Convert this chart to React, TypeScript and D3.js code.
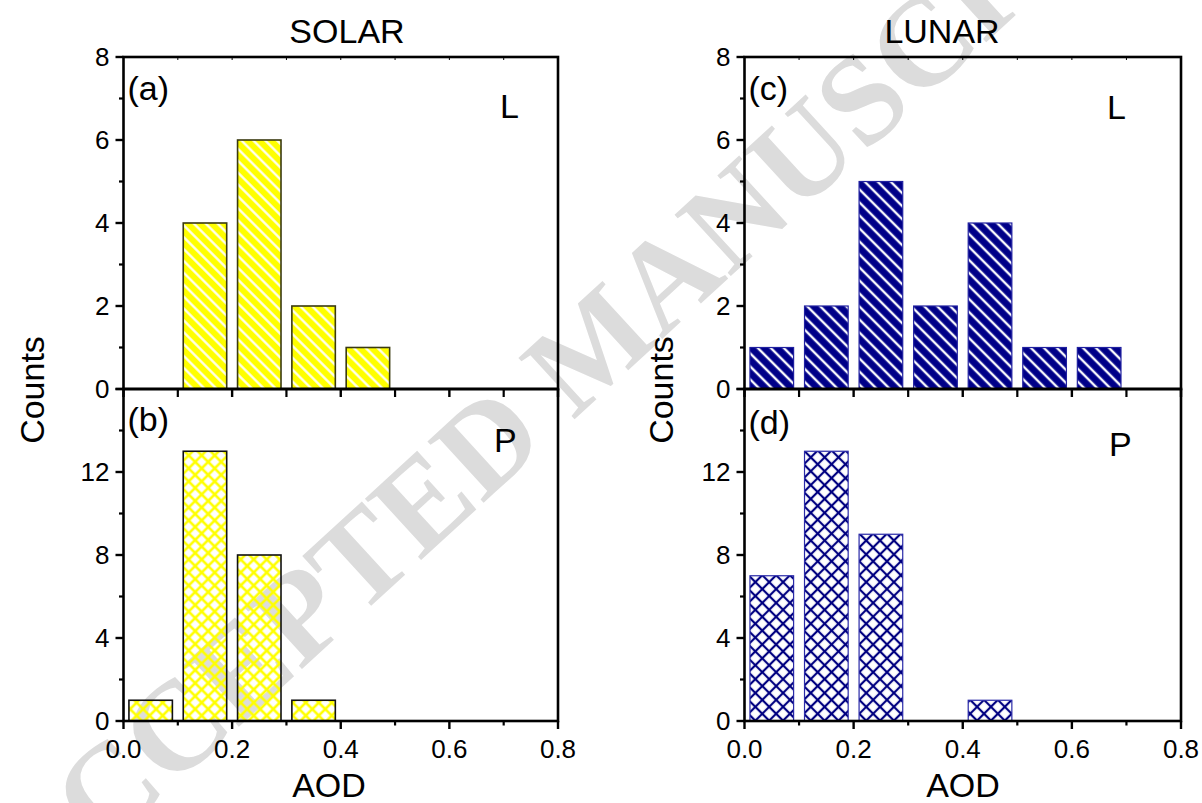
import React from 'react';
import * as d3 from 'd3';

// ---- data ----
const binStarts = [0.0, 0.1, 0.2, 0.3, 0.4, 0.5, 0.6, 0.7];
const binWidth = 0.1;
const solarL = [0, 4, 6, 2, 1, 0, 0, 0];
const solarP = [1, 13, 8, 1, 0, 0, 0, 0];
const lunarL = [1, 2, 5, 2, 4, 1, 1, 0];
const lunarP = [7, 13, 9, 0, 1, 0, 0, 0];

const xMajorTicks = [0.0, 0.2, 0.4, 0.6, 0.8];
const xMinorTicks = [0.1, 0.3, 0.5, 0.7];
const lMajorTicks = [0, 2, 4, 6, 8];
const lMinorTicks = [1, 3, 5, 7];
const pMajorTicks = [0, 4, 8, 12, 16];
const pLabelTicks = [0, 4, 8, 12];
const pMinorTicks = [2, 6, 10, 14];
const columnTitles = ['SOLAR', 'LUNAR'];
const panelLetters = ['(a)', '(b)', '(c)', '(d)'];
const panelTags = ['L', 'P', 'L', 'P'];
const watermark = 'ACCEPTED MANUSCRIPT';

const FONT = 'Arial, "Liberation Sans", sans-serif';
const W = 1202, H = 803;
const yTop = 57, yMid = 389, yBot = 721;
const cols = [
  { x0: 123.5, x1: 558, titleX: 347, aodX: 329, countsX: 44 },
  { x0: 744.5, x1: 1181, titleX: 942, aodX: 963, countsX: 673 },
];

type PanelProps = {
  x0: number; x1: number; top: number; bottom: number; max: number;
  values: number[]; fill: string; stroke: string; strokeW: number;
  majors: number[]; labels: number[]; minors: number[];
  letter: string; tag: string; letterY: number; tagY: number; tagX: number;
  showXLabels: boolean;
};

function Panel(p: PanelProps) {
  const x = d3.scaleLinear().domain([0, 0.8]).range([p.x0, p.x1]);
  const y = d3.scaleLinear().domain([0, p.max]).range([p.bottom, p.top]);
  const gap = 0.01;
  return (
    <g>
      {binStarts.map((b, i) =>
        p.values[i] > 0 ? (
          <rect key={i} x={x(b + gap)} y={y(p.values[i])}
            width={x(b + binWidth - gap) - x(b + gap)} height={y(0) - y(p.values[i])}
            fill={p.fill} stroke={p.stroke} strokeWidth={p.strokeW} />
        ) : null
      )}
      <rect x={p.x0} y={p.top} width={p.x1 - p.x0} height={p.bottom - p.top}
        fill="none" stroke="#000" strokeWidth={2.6} />
      {p.majors.map((t) => (
        <line key={'ym' + t} x1={p.x0 - 8} x2={p.x0} y1={y(t)} y2={y(t)} stroke="#000" strokeWidth={2.4} />
      ))}
      {p.minors.map((t) => (
        <line key={'yn' + t} x1={p.x0 - 4.5} x2={p.x0} y1={y(t)} y2={y(t)} stroke="#000" strokeWidth={2.2} />
      ))}
      {p.labels.map((t) => (
        <text key={'yl' + t} x={p.x0 - 14} y={y(t)} dy="0.36em" textAnchor="end"
          fontFamily={FONT} fontSize={26} fill="#000">{t}</text>
      ))}
      {xMajorTicks.map((t) => (
        <line key={'xm' + t} x1={x(t)} x2={x(t)} y1={p.bottom} y2={p.bottom + 8} stroke="#000" strokeWidth={2.4} />
      ))}
      {xMinorTicks.map((t) => (
        <line key={'xn' + t} x1={x(t)} x2={x(t)} y1={p.bottom} y2={p.bottom + (p.showXLabels ? 4.5 : 8)} stroke="#000" strokeWidth={2.2} />
      ))}
      {[...xMajorTicks, ...xMinorTicks].map((t) => (
        <line key={'xt' + t} x1={x(t)} x2={x(t)} y1={p.top} y2={p.top + 3} stroke="#000" strokeWidth={1} />
      ))}
      {p.showXLabels && xMajorTicks.map((t) => (
        <text key={'xl' + t} x={x(t)} y={p.bottom + 37} textAnchor="middle"
          fontFamily={FONT} fontSize={26} fill="#000">{d3.format('.1f')(t)}</text>
      ))}
      <text x={p.x0 + 4} y={p.letterY} fontFamily={FONT} fontSize={34} fill="#000">{p.letter}</text>
      <text x={p.tagX} y={p.tagY} fontFamily={FONT} fontSize={34} fill="#000">{p.tag}</text>
    </g>
  );
}

export default function App() {
  return (
    <svg width={W} height={H} viewBox={`0 0 ${W} ${H}`}
      style={{ position: 'absolute', left: 0, top: 0, background: '#fff' }}>
      <defs>
        <pattern id="hatchY" width={8.4} height={8.4} patternUnits="userSpaceOnUse" patternTransform="rotate(-45)">
          <rect width={8.4} height={8.4} fill="#ffff00" />
          <line x1={4.2} y1={0} x2={4.2} y2={8.4} stroke="#fff" strokeWidth={2.2} />
        </pattern>
        <pattern id="crossY" width={9.2} height={9.2} patternUnits="userSpaceOnUse" patternTransform="rotate(45)">
          <line x1={4.6} y1={0} x2={4.6} y2={9.2} stroke="#ffff00" strokeWidth={2.6} />
          <line x1={0} y1={4.6} x2={9.2} y2={4.6} stroke="#ffff00" strokeWidth={2.6} />
        </pattern>
        <pattern id="hatchB" width={9.2} height={9.2} patternUnits="userSpaceOnUse" patternTransform="rotate(-45)">
          <rect width={9.2} height={9.2} fill="#000088" />
          <line x1={4.6} y1={0} x2={4.6} y2={9.2} stroke="#fff" strokeWidth={2.4} />
        </pattern>
        <pattern id="crossB" width={9.8} height={9.8} patternUnits="userSpaceOnUse" patternTransform="rotate(45)">
          <line x1={4.9} y1={0} x2={4.9} y2={9.8} stroke="#000080" strokeWidth={2.2} />
          <line x1={0} y1={4.9} x2={9.8} y2={4.9} stroke="#000080" strokeWidth={2.2} />
        </pattern>
      </defs>

      {/* watermark */}
      <text transform="translate(592,345) rotate(-42.5)" textAnchor="middle" dominantBaseline="central"
        fontFamily='"Liberation Serif", "Times New Roman", serif' fontWeight="bold" fontSize={127} fill="#dcdcdc">
        {watermark}
      </text>

      {cols.map((c, i) => (
        <g key={'c' + i}>
          <text x={c.titleX} y={43} textAnchor="middle" fontFamily={FONT} fontSize={34} fill="#000">{columnTitles[i]}</text>
          <text x={c.aodX} y={797} textAnchor="middle" fontFamily={FONT} fontSize={34} fill="#000">AOD</text>
          <text transform={`translate(${c.countsX},390) rotate(-90)`} textAnchor="middle" fontFamily={FONT} fontSize={34} fill="#000">Counts</text>
        </g>
      ))}

      <Panel x0={cols[0].x0} x1={cols[0].x1} top={yTop} bottom={yMid} max={8}
        values={solarL} fill="url(#hatchY)" stroke="#3a3a10" strokeW={1.6}
        majors={lMajorTicks} labels={lMajorTicks} minors={lMinorTicks}
        letter={panelLetters[0]} tag={panelTags[0]} letterY={100} tagY={118} tagX={500} showXLabels={false} />
      <Panel x0={cols[0].x0} x1={cols[0].x1} top={yMid} bottom={yBot} max={16}
        values={solarP} fill="url(#crossY)" stroke="#111" strokeW={1.6}
        majors={pMajorTicks} labels={pLabelTicks} minors={pMinorTicks}
        letter={panelLetters[1]} tag={panelTags[1]} letterY={431} tagY={452} tagX={494} showXLabels={true} />
      <Panel x0={cols[1].x0} x1={cols[1].x1} top={yTop} bottom={yMid} max={8}
        values={lunarL} fill="url(#hatchB)" stroke="#2020a0" strokeW={1.2}
        majors={lMajorTicks} labels={lMajorTicks} minors={lMinorTicks}
        letter={panelLetters[2]} tag={panelTags[2]} letterY={100} tagY={119} tagX={1107} showXLabels={false} />
      <Panel x0={cols[1].x0} x1={cols[1].x1} top={yMid} bottom={yBot} max={16}
        values={lunarP} fill="url(#crossB)" stroke="#2a2aa8" strokeW={1.2}
        majors={pMajorTicks} labels={pLabelTicks} minors={pMinorTicks}
        letter={panelLetters[3]} tag={panelTags[3]} letterY={434} tagY={456} tagX={1109} showXLabels={true} />
    </svg>
  );
}
